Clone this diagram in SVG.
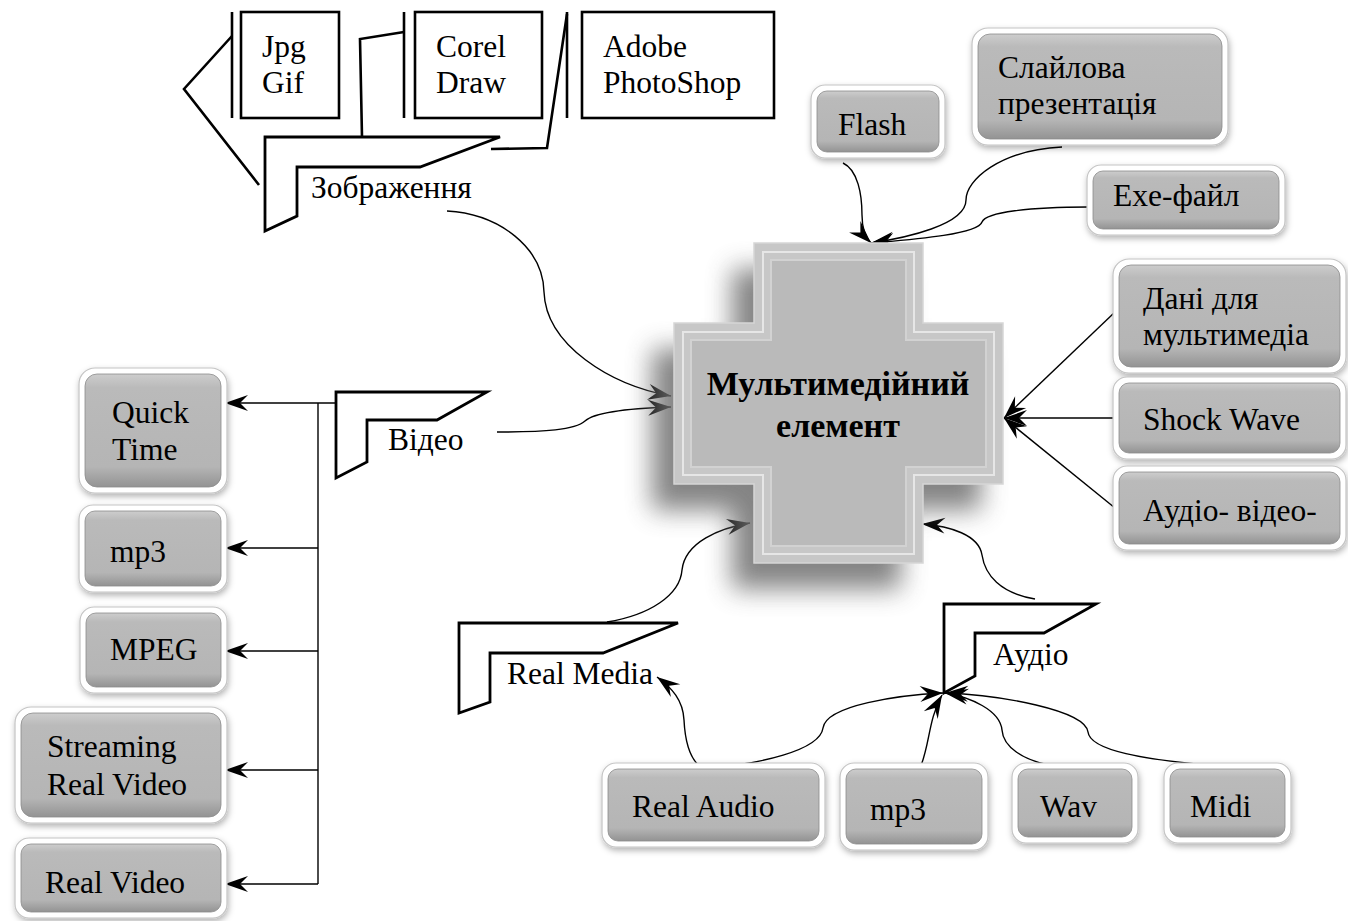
<svg xmlns="http://www.w3.org/2000/svg" width="1348" height="921" viewBox="0 0 1348 921">
<defs>
<style>
.t{font-family:"Liberation Serif","Times New Roman",serif;font-size:31.5px;fill:#000}
.tb{font-family:"Liberation Serif","Times New Roman",serif;font-size:34px;font-weight:bold;fill:#000;text-anchor:middle}
.frame{fill:#fff;stroke:#c4c4c4;stroke-width:1.2;filter:url(#sh)}
.face{fill:url(#g);stroke:#8c8c8c;stroke-width:0.8}
.box{fill:#fff;stroke:#000;stroke-width:2.6}
.bar{stroke:#000;stroke-width:2.6;fill:none}
.call{fill:#fff;stroke:#000;stroke-width:2.8;stroke-linejoin:miter}
.c{fill:none;stroke:#000;stroke-width:1.4;marker-end:url(#ar)}
.l{fill:none;stroke:#000;stroke-width:1.4}
</style>
<linearGradient id="g" x1="0" y1="0" x2="0" y2="1">
<stop offset="0" stop-color="#cdcdcd"/>
<stop offset="0.12" stop-color="#bababa"/>
<stop offset="0.82" stop-color="#b5b5b5"/>
<stop offset="1" stop-color="#939393"/>
</linearGradient>
<filter id="sh" x="-20%" y="-20%" width="140%" height="150%">
<feDropShadow dx="1" dy="3" stdDeviation="3" flood-color="#000" flood-opacity="0.3"/>
</filter>
<filter id="bl" x="-30%" y="-30%" width="160%" height="160%">
<feGaussianBlur stdDeviation="13"/>
</filter>
<marker id="ar" viewBox="-25 -10 27 20" markerWidth="27" markerHeight="20" refX="0" refY="0" orient="auto" markerUnits="userSpaceOnUse">
<path d="M0,0 L-23,-8 L-15,0 L-23,8 Z" fill="#000"/>
</marker>
</defs>
<rect width="1348" height="921" fill="#fff"/>

<g id="connectors">
<path class="c" d="M447 211 C500 214,543 248,544 292 C546 345,610 385,671 396"/>
<path class="c" d="M497 432 C545 432,575 430,585 421 C596 411,640 408,671 407"/>
<path class="c" d="M843 163 C858 170,862 195,862 215 C862 230,866 238,871 243"/>
<path class="c" d="M1062 147 C1000 150,966 180,966 200 C966 225,905 238,871 243"/>
<path class="c" d="M1088 207 C1030 207,986 212,982 222 C978 235,905 240,871 243"/>
<path class="c" d="M1115 312 L1004 418"/>
<path class="c" d="M1115 418 L1004 418"/>
<path class="c" d="M1115 508 L1004 418"/>
<path class="c" d="M607 622 C650 615,680 595,682 570 C685 542,720 528,750 523"/>
<path class="c" d="M1035 599 C1000 593,985 575,982 555 C979 535,950 526,922 524"/>
<path class="c" d="M702 768 C690 760,685 740,684 720 C683 700,672 688,657 677"/>
<path class="c" d="M702 768 C760 765,820 750,823 728 C826 705,900 695,943 693"/>
<path class="c" d="M920 768 C930 745,928 720,942 695"/>
<path class="c" d="M1062 767 C1020 762,1003 745,1002 730 C1000 710,970 697,945 693"/>
<path class="c" d="M1230 767 C1140 760,1090 750,1088 732 C1085 710,1000 695,945 693"/>
<path class="c" d="M336 403 L225 403"/>
<path class="l" d="M318 403 L318 884"/>
<path class="c" d="M318 548 L225 548"/>
<path class="c" d="M318 651 L225 651"/>
<path class="c" d="M318 770 L225 770"/>
<path class="c" d="M318 884 L225 884"/>
<path class="bar" d="M232 36 L184 89 L259 185"/>
<path class="bar" d="M404 32 L360 39 L362 137"/>
<path class="bar" d="M567 14 L547 148 L491 149"/>
</g>

<g id="images">
<line class="bar" x1="232" y1="12" x2="232" y2="118"/>
<rect class="box" x="241" y="12" width="98" height="106"/>
<text class="t" x="262" y="57">Jpg</text>
<text class="t" x="262" y="93">Gif</text>
<line class="bar" x1="404" y1="12" x2="404" y2="118"/>
<rect class="box" x="415" y="12" width="127" height="106"/>
<text class="t" x="436" y="57">Corel</text>
<text class="t" x="436" y="93">Draw</text>
<line class="bar" x1="567" y1="12" x2="567" y2="118"/>
<rect class="box" x="582" y="12" width="192" height="106"/>
<text class="t" x="603" y="57">Adobe</text>
<text class="t" x="603" y="93">PhotoShop</text>
</g>

<g id="zobrazhennia">
<polygon class="call" points="265,137 500,137 420,167 297,167 297,216 265,231"/>
<text class="t" x="311" y="198">Зображення</text>
</g>
<g id="video">
<polygon class="call" points="336,392 487,392 437,420 367,420 367,462 336,478"/>
<text class="t" x="388" y="450">Відео</text>
</g>
<g id="realmedia">
<polygon class="call" points="459,623 678,623 603,653 490,653 490,702 459,713"/>
<text class="t" x="507" y="684">Real Media</text>
</g>
<g id="audio">
<polygon class="call" points="944,604 1096,604 1044,633 975,633 975,676 944,693"/>
<text class="t" x="993" y="665">Аудіо</text>
</g>

<g id="center">
<polygon points="754,243 923,243 923,323 1003,323 1003,484 923,484 923,563 754,563 754,484 674,484 674,323 754,323" fill="#6e6e6e" opacity="0.85" filter="url(#bl)" transform="translate(-22,26)"/>
<polygon points="754,243 923,243 923,323 1003,323 1003,484 923,484 923,563 754,563 754,484 674,484 674,323 754,323" fill="#c7c7c7" stroke="#d6d6d6" stroke-width="1.5"/>
<polygon points="763,252 914,252 914,332 994,332 994,475 914,475 914,554 763,554 763,475 683,475 683,332 763,332" fill="none" stroke="#e6e6e6" stroke-width="2"/>
<polygon points="771,260 906,260 906,340 986,340 986,467 906,467 906,546 771,546 771,467 691,467 691,340 771,340" fill="#bababa" stroke="#d2d2d2" stroke-width="2"/>
<text class="tb" x="838" y="395">Мультимедійний</text>
<text class="tb" x="838" y="437">елемент</text>
</g>

<g id="flash">
<rect class="frame" x="811" y="85" width="134" height="73" rx="14"/>
<rect class="face" x="817" y="91" width="122" height="61" rx="10"/>
<text class="t" x="838" y="135">Flash</text>
</g>
<g id="slide">
<rect class="frame" x="972" y="28" width="256" height="117" rx="16"/>
<rect class="face" x="978" y="34" width="244" height="105" rx="12"/>
<text class="t" x="998" y="78">Слайлова</text>
<text class="t" x="998" y="114">презентація</text>
</g>
<g id="exe">
<rect class="frame" x="1087" y="165" width="198" height="70" rx="14"/>
<rect class="face" x="1093" y="171" width="186" height="58" rx="10"/>
<text class="t" x="1113" y="206">Exe-файл</text>
</g>
<g id="dani">
<rect class="frame" x="1113" y="259" width="233" height="114" rx="16"/>
<rect class="face" x="1119" y="265" width="221" height="102" rx="12"/>
<text class="t" x="1143" y="309">Дані для</text>
<text class="t" x="1143" y="345">мультимедіа</text>
</g>
<g id="shockwave">
<rect class="frame" x="1113" y="377" width="233" height="82" rx="14"/>
<rect class="face" x="1119" y="383" width="221" height="70" rx="10"/>
<text class="t" x="1143" y="430">Shock Wave</text>
</g>
<g id="audiovideo">
<rect class="frame" x="1113" y="466" width="233" height="84" rx="14"/>
<rect class="face" x="1119" y="472" width="221" height="72" rx="10"/>
<text class="t" x="1143" y="521">Аудіо- відео-</text>
</g>

<g id="quicktime">
<rect class="frame" x="79" y="368" width="148" height="125" rx="16"/>
<rect class="face" x="85" y="374" width="136" height="113" rx="12"/>
<text class="t" x="112" y="423">Quick</text>
<text class="t" x="112" y="460">Time</text>
</g>
<g id="mp3v">
<rect class="frame" x="79" y="505" width="148" height="87" rx="14"/>
<rect class="face" x="85" y="511" width="136" height="75" rx="10"/>
<text class="t" x="110" y="562">mp3</text>
</g>
<g id="mpeg">
<rect class="frame" x="80" y="607" width="147" height="86" rx="14"/>
<rect class="face" x="86" y="613" width="135" height="74" rx="10"/>
<text class="t" x="110" y="660">MPEG</text>
</g>
<g id="streaming">
<rect class="frame" x="15" y="707" width="212" height="116" rx="16"/>
<rect class="face" x="21" y="713" width="200" height="104" rx="12"/>
<text class="t" x="47" y="757">Streaming</text>
<text class="t" x="47" y="795">Real Video</text>
</g>
<g id="realvideo">
<rect class="frame" x="15" y="838" width="212" height="80" rx="14"/>
<rect class="face" x="21" y="844" width="200" height="68" rx="10"/>
<text class="t" x="45" y="893">Real Video</text>
</g>

<g id="realaudio">
<rect class="frame" x="602" y="763" width="223" height="84" rx="14"/>
<rect class="face" x="608" y="769" width="211" height="72" rx="10"/>
<text class="t" x="632" y="817">Real Audio</text>
</g>
<g id="mp3a">
<rect class="frame" x="840" y="763" width="148" height="87" rx="14"/>
<rect class="face" x="846" y="769" width="136" height="75" rx="10"/>
<text class="t" x="870" y="820">mp3</text>
</g>
<g id="wav">
<rect class="frame" x="1012" y="763" width="126" height="80" rx="14"/>
<rect class="face" x="1018" y="769" width="114" height="68" rx="10"/>
<text class="t" x="1040" y="817">Wav</text>
</g>
<g id="midi">
<rect class="frame" x="1164" y="763" width="127" height="80" rx="14"/>
<rect class="face" x="1170" y="769" width="115" height="68" rx="10"/>
<text class="t" x="1190" y="817">Midi</text>
</g>
</svg>
